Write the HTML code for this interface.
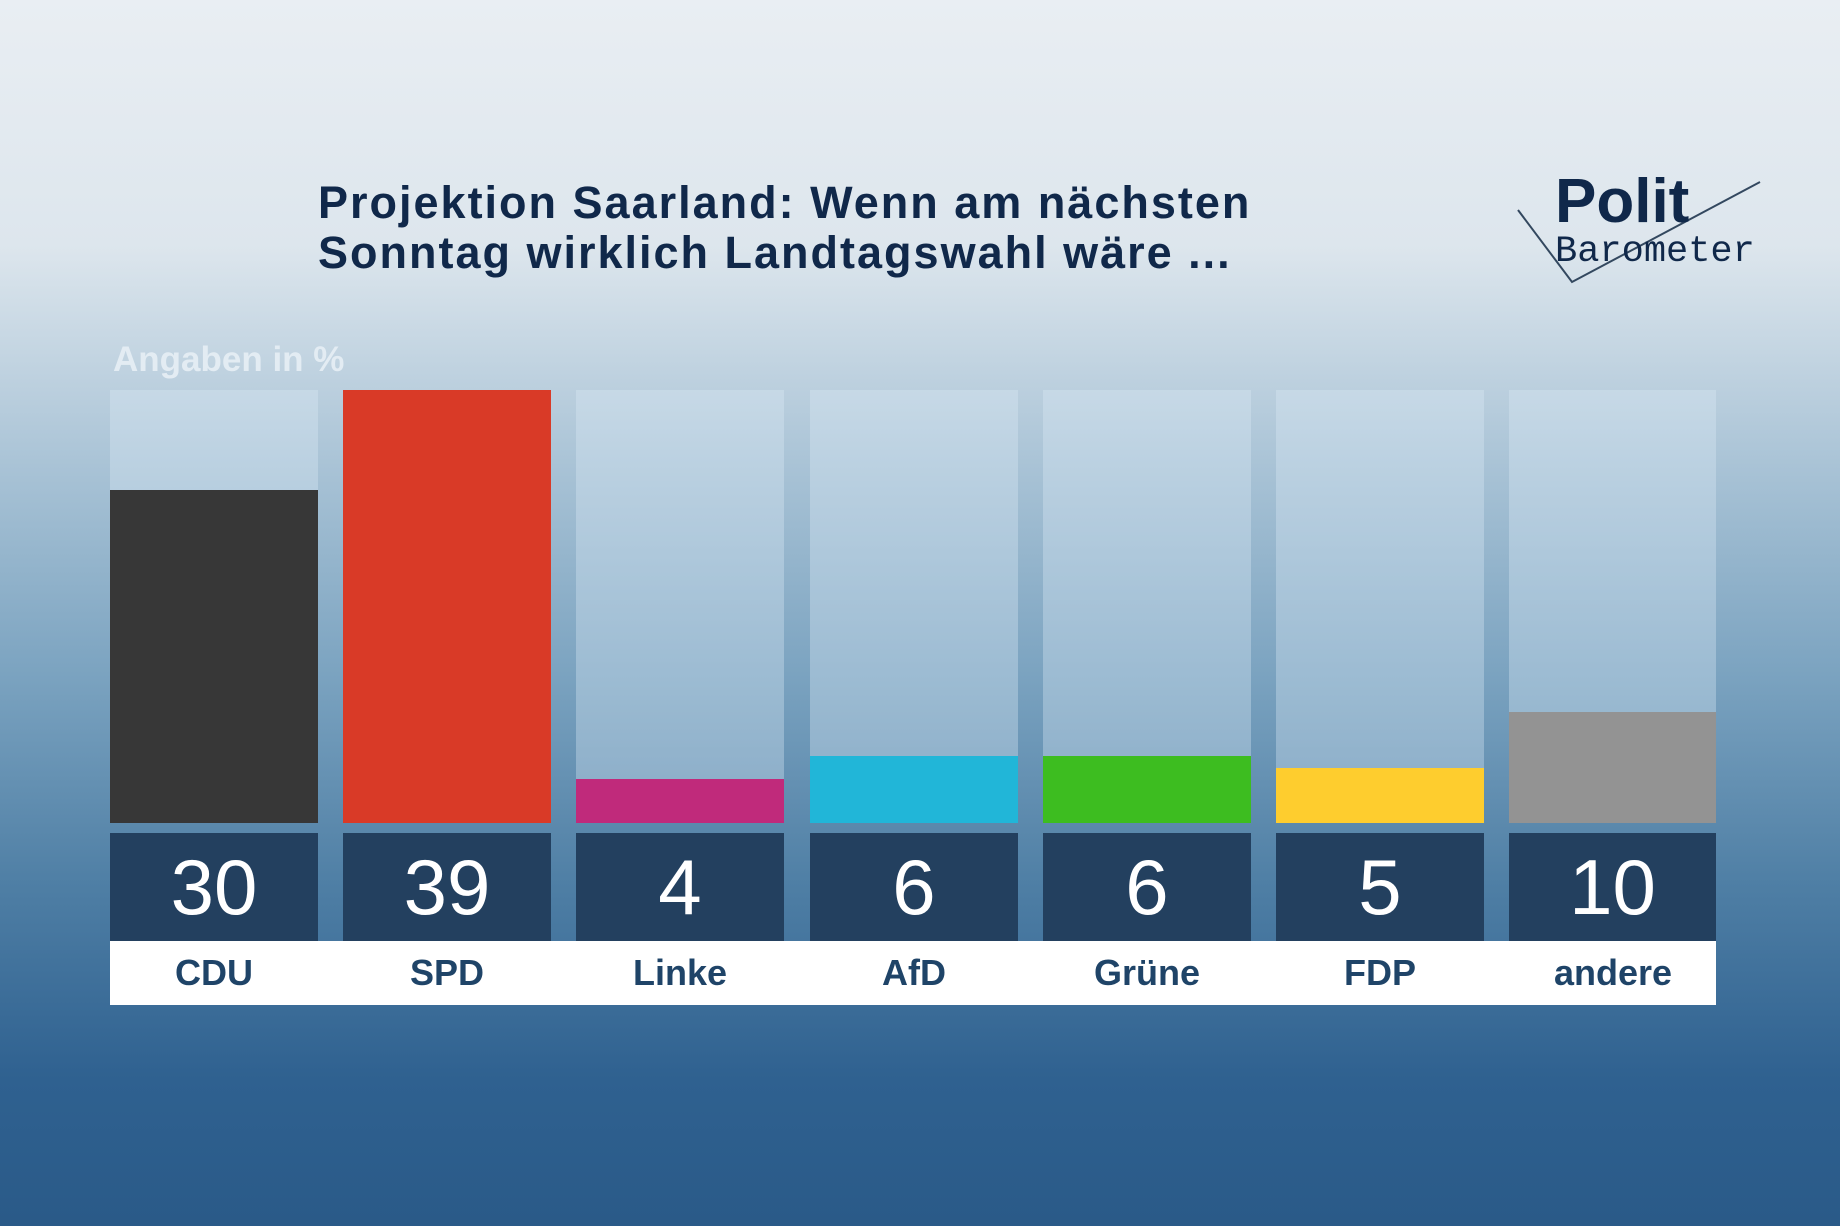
<!DOCTYPE html>
<html><head><meta charset="utf-8"><style>
body{margin:0;width:1840px;height:1226px;overflow:hidden;font-family:"Liberation Sans",sans-serif;
background:linear-gradient(180deg,#e9eef3 0%,#dde6ed 20%,#a9c3d6 38%,#7ba3c0 55%,#4f7fa5 72%,#2f6190 88%,#2a5a88 100%);position:relative}
.t{position:absolute;left:318px;top:178px;font-size:45px;font-weight:bold;color:#10284a;line-height:50px;letter-spacing:2px}
.a{position:absolute;left:113px;top:340px;font-size:35px;font-weight:bold;color:#e3ecf3}
.col{position:absolute;top:390px;width:208px;height:433px;background:rgba(220,235,245,0.35)}
.bar{position:absolute;bottom:0;left:0;width:100%}
.num{position:absolute;top:833px;width:208px;height:108px;background:#23405f;color:#fff;font-size:78px;text-align:center;line-height:108px}
.lab{position:absolute;left:110px;top:941px;width:1606px;height:64px;background:#fff}
.l{position:absolute;top:941px;width:208px;height:64px;line-height:64px;text-align:center;font-size:36px;font-weight:bold;color:#1f4468}
</style></head><body>
<div class="t">Projektion Saarland: Wenn am nächsten<br>Sonntag wirklich Landtagswahl wäre ...</div>
<div class="a">Angaben in %</div>
<svg style="position:absolute;left:1510px;top:170px" width="260" height="120">
<polyline points="8,40 62,112 250,12" fill="none" stroke="#33485f" stroke-width="2"/>
<text x="45" y="52" font-family="Liberation Sans" font-weight="bold" font-size="62" fill="#10284a">Polit</text>
<text x="45" y="91" font-family="Liberation Mono" font-size="37" fill="#10284a">Barometer</text>
</svg>
<div class="lab"></div>
<div class="col" style="left:110px"><div class="bar" style="height:333px;background:#373737"></div></div>
<div class="col" style="left:343px"><div class="bar" style="height:433px;background:#d93a27"></div></div>
<div class="col" style="left:576px"><div class="bar" style="height:44px;background:#c02a7b"></div></div>
<div class="col" style="left:810px"><div class="bar" style="height:67px;background:#21b6d8"></div></div>
<div class="col" style="left:1043px"><div class="bar" style="height:67px;background:#3dbd20"></div></div>
<div class="col" style="left:1276px"><div class="bar" style="height:55px;background:#fecd2e"></div></div>
<div class="col" style="left:1509px;width:207px"><div class="bar" style="height:111px;background:#939393"></div></div>
<div class="num" style="left:110px">30</div><div class="num" style="left:343px">39</div><div class="num" style="left:576px">4</div><div class="num" style="left:810px">6</div><div class="num" style="left:1043px">6</div><div class="num" style="left:1276px">5</div><div class="num" style="left:1509px;width:207px">10</div>
<div class="l" style="left:110px">CDU</div><div class="l" style="left:343px">SPD</div><div class="l" style="left:576px">Linke</div><div class="l" style="left:810px">AfD</div><div class="l" style="left:1043px">Grüne</div><div class="l" style="left:1276px">FDP</div><div class="l" style="left:1509px">andere</div>
</body></html>
